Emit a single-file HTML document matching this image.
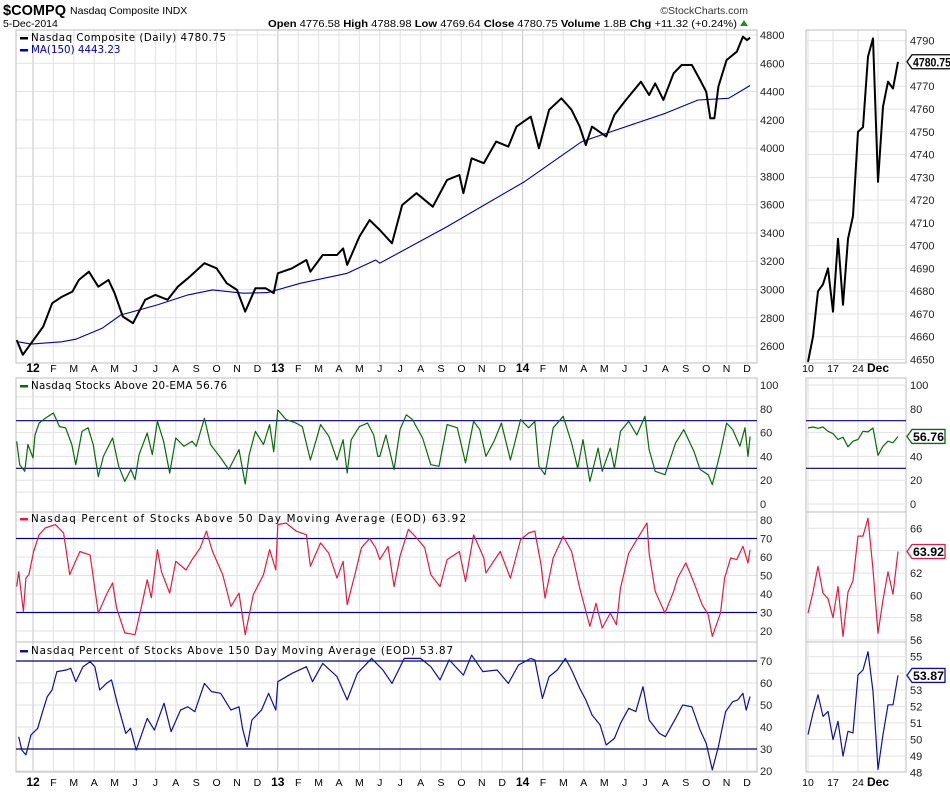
<!DOCTYPE html>
<html><head><meta charset="utf-8"><style>
html,body{margin:0;background:#fff;width:950px;height:795px;overflow:hidden}
svg{display:block;overflow:hidden}
text{font-family:"Liberation Sans",sans-serif}
.lg{font-family:"DejaVu Sans",sans-serif;font-size:10.3px}
</style></head><body>
<svg id="c" width="950" height="795" xmlns="http://www.w3.org/2000/svg">
<text x="3" y="15" font-size="15" font-weight="bold" textLength="63" lengthAdjust="spacingAndGlyphs">$COMPQ</text>
<text x="70" y="14" font-size="10.5">Nasdaq Composite INDX</text>
<text x="3" y="27" font-size="10.5">5-Dec-2014</text>
<text x="748" y="14" font-size="10.5" text-anchor="end" fill="#333">©StockCharts.com</text>
<text x="268" y="27" font-size="10.5" textLength="469" lengthAdjust="spacingAndGlyphs"><tspan font-weight="bold">Open</tspan> 4776.58 <tspan font-weight="bold">High</tspan> 4788.98 <tspan font-weight="bold">Low</tspan> 4769.64 <tspan font-weight="bold">Close</tspan> 4780.75 <tspan font-weight="bold">Volume</tspan> 1.8B <tspan font-weight="bold">Chg</tspan> +11.32 (+0.24%)</text>
<polygon points="740,26 748,26 744,20" fill="#2a8a2a"/>
<g id="g"></g>
</svg>
<script>
// ---- data (month index: 0 = Jan 2012) ----
const priceM=[-0.8,-0.5,-0.15,0.5,0.94,1.43,1.93,2.25,2.74,3.2,3.7,4.0,4.4,4.9,5.5,6.0,6.6,7.1,7.6,8.4,9.0,9.5,10.0,10.4,10.9,11.4,11.8,12.0,12.7,13.4,13.6,14.2,14.9,15.2,15.4,16.0,16.5,17.0,17.6,18.1,18.8,19.6,20.3,20.9,21.1,21.5,22.1,22.7,23.3,23.7,24.4,24.8,25.3,25.9,26.4,26.8,27.1,27.4,28.1,28.5,29.0,29.8,30.2,30.5,30.9,31.4,31.8,32.3,32.7,33.0,33.2,33.4,33.6,34.0,34.5,34.8,35.0,35.15];
const priceV=[2643,2538,2608,2738,2903,2950,2985,3068,3126,3020,3068,2974,2809,2762,2927,2962,2927,3020,3080,3186,3150,3044,2997,2844,3009,3009,2974,3115,3150,3209,3126,3244,3244,3291,3174,3374,3491,3421,3327,3598,3681,3586,3775,3810,3681,3928,3893,4046,4011,4152,4223,3999,4270,4352,4270,4152,4022,4152,4082,4235,4329,4470,4376,4458,4341,4529,4588,4588,4482,4399,4211,4211,4435,4623,4682,4788,4764,4780.75];
const maM=[-0.8,-0.1,1.4,2.1,3.4,4.3,6.1,7.6,8.8,10.3,11.5,13.1,15.4,16.8,17.0,20.3,24.1,26.9,31.0,32.6,34.1,35.15];
const maV=[2632,2614,2630,2649,2727,2820,2891,2962,2997,2974,2978,3044,3115,3209,3186,3445,3763,4046,4246,4340,4352,4443];
const grnM=[-0.8,-0.65,-0.4,-0.25,0.0,0.1,0.3,0.6,1.0,1.3,1.6,1.9,2.1,2.4,2.7,2.95,3.2,3.45,3.9,4.2,4.5,4.8,5.0,5.2,5.6,5.85,6.1,6.4,6.7,7.0,7.4,7.8,8.0,8.4,8.7,9.2,9.6,10.1,10.4,10.6,10.9,11.3,11.6,11.8,12.0,12.4,12.9,13.2,13.6,14.1,14.5,14.9,15.2,15.4,15.6,16.0,16.4,16.7,16.9,17.0,17.3,17.7,17.99,18.3,18.6,19.1,19.5,19.9,20.3,20.8,21.2,21.6,21.9,22.2,22.6,22.96,23.4,23.9,24.3,24.6,24.8,25.1,25.5,25.99,26.4,26.7,26.96,27.3,27.7,27.9,28.3,28.5,28.8,29.2,29.6,30.0,30.2,30.5,30.98,31.5,31.9,32.4,32.7,33.1,33.3,33.7,34.0,34.3,34.65,34.9,35.05,35.15];
const grnV=[52.7,33,27.5,50,38.7,58,68,72,76.5,65,64,50,33,61,64,50,23,40,55.5,31.7,19,29,20.4,41.5,59.7,41.5,69.5,52.7,26,55.5,48.5,52.7,48.5,72,50,38.7,29,45.7,16.8,41.5,61,50,66.7,44,79,71,68,65,37,66.7,57,37,54,26,54,65,68,58,40,40,58,29,62.5,75,71,55.5,33,31.7,66.7,64,34.5,69.5,62.5,40,52.7,68,37,71,64,69.5,31.7,24.6,64,73.7,51.3,30,54,19,47,27.5,47,30,61,69.5,58,73.7,45.7,27.5,24.6,51.3,62.5,44,29,24.6,16.2,44,68,62.5,48.5,64,40,56.76];
const redM=[-0.8,-0.7,-0.47,-0.35,-0.2,0.03,0.3,0.6,1.1,1.5,1.8,2.3,2.8,3.2,3.6,3.9,4.1,4.5,5.0,5.3,5.6,5.8,6.1,6.3,6.7,7.0,7.5,7.8,8.2,8.5,8.8,9.3,9.7,10.1,10.4,10.8,11.3,11.6,11.9,12.0,12.4,12.9,13.4,13.6,14.1,14.5,14.9,15.2,15.4,15.8,16.1,16.5,16.8,17.0,17.4,17.7,17.99,18.4,18.8,19.2,19.5,19.95,20.3,20.9,21.2,21.6,22.1,22.2,22.9,23.4,23.9,24.3,24.6,24.9,25.1,25.5,25.99,26.4,26.8,27.3,27.6,27.9,28.3,28.6,28.8,29.2,29.6,30.1,30.2,30.5,30.98,31.4,31.6,32.0,32.4,32.8,33.1,33.3,33.7,33.9,34.2,34.5,34.8,35.05,35.15];
const redV=[44,52,30.6,48.6,50.5,63,72,75.7,77.5,73,50.5,63,61,29.7,39.6,46,32.4,19,18,32.4,47.7,38,64,52,40.5,57.7,53,58.6,65,74,63,50.5,33.3,40.5,18,39.6,50.5,64,53,77.5,78.4,74,72,55,67.6,62,48.6,57.7,34.2,51.4,65,70,65,58.6,65.8,44,60.4,75,70.3,65,50.5,44,58.6,63,46.8,72,59.5,51.4,63,48.6,69.4,73,74,55.9,37.8,59.5,71.2,63,43.2,22.5,35,21.6,29.7,23.4,43.2,62,69.4,78.4,62,41.4,29.7,41.4,48.6,56.8,46,34.2,28.8,17.1,29.7,48.6,59.5,58.6,65.8,56.8,63.92];
const bluM=[-0.7,-0.55,-0.35,-0.1,0.23,0.47,0.7,0.93,1.17,1.63,1.85,2.1,2.45,2.8,3.03,3.27,3.6,3.85,4.13,4.55,4.78,5.06,5.6,5.95,6.42,6.77,7.23,7.58,7.93,8.4,8.75,9.2,9.7,10.1,10.27,10.5,10.73,11.2,11.55,11.9,12.0,12.7,13.4,13.7,14.2,14.9,15.4,15.9,16.6,17.15,17.6,18.2,19.0,19.5,19.95,20.4,21.1,21.5,22.05,22.75,23.3,23.8,24.4,24.6,24.97,25.3,25.7,26.1,26.4,26.8,27.1,27.4,27.8,28.1,28.5,28.8,29.2,29.55,29.9,30.2,30.7,31.0,31.5,31.85,32.3,32.7,33.0,33.3,33.6,33.95,34.3,34.55,34.8,34.96,35.15];
const bluV=[35.6,29.5,27.3,36.4,39.4,47,53.8,56.8,65.2,65.9,66.7,60.6,67.4,69.7,67.4,56.8,59.8,61.4,50.8,37.1,39.4,29.5,43.9,38.6,50.8,37.9,47.7,49.2,47,59.8,56.1,55.3,47.7,49.2,39.4,31.1,43.2,47.7,55.3,47.7,60.6,64.4,67.4,60.6,68.9,62.9,52.3,64.4,71.2,65.9,59.8,71.2,71.2,67.4,61.4,70.5,63.6,72.7,65.2,65.9,59.8,68.2,71.2,70.5,53,62.9,65.9,71.2,65.9,57.6,52.3,45.5,40.9,31.8,34.8,41.7,48.5,47,58.3,43.2,37.1,35.6,43.9,50,49.2,38.6,32.6,20.5,31.1,47,51.5,52.3,55.3,47.7,53.87];
// side (trading days Nov 10 - Dec 5)
const sideDays=['10','','','','','17','','','','','24','','','','Dec','','','',''];
const sPrice=[4649,4660,4680,4683,4690,4671,4703,4674,4703,4713,4750,4752,4783,4791,4728,4761,4772,4769,4780.75];
const sGrn=[63.9,64.7,63.6,64.7,61.1,59.2,54.2,56.1,48.1,52.8,54.2,61.1,60.6,63.9,40.8,48.6,52.8,51.4,56.76];
const sRed=[58.4,60.3,62.6,60.2,59.7,58.0,60.8,56.3,60.3,61.3,65.3,65.3,66.9,62.3,56.6,59.6,62.1,60.1,63.92];
const sBlu=[50.3,51.6,52.7,51.4,51.7,50.0,51.1,49.0,50.5,50.4,53.9,54.2,55.3,52.9,48.2,50.3,52.1,52.1,53.87];
const monthLabels=['12','F','M','A','M','J','J','A','S','O','N','D','13','F','M','A','M','J','J','A','S','O','N','D','14','F','M','A','M','J','J','A','S','O','N','D'];
const priceTicks=[2600,2800,3000,3200,3400,3600,3800,4000,4200,4400,4600,4800];
const grnTicks=[0,20,40,60,80,100];
const redTicks=[20,30,40,50,60,70,80];
const bluTicks=[20,30,40,50,60,70];
const sPriceTicks=[4650,4660,4670,4680,4690,4700,4710,4720,4730,4740,4750,4760,4770,4780,4790];
const sRedTicks=[56,58,60,62,64,66];
const sBluTicks=[48,49,50,51,52,53,54,55];

// ---- scales ----
const L=16,R=757,SL=806,SR=906;
const xm=m=>33+20.4*m;
const xs=i=>808+5*i;
const P={price:{t:30,b:363,y:v=>35+(4800-v)*0.1414},grn:{t:378,b:512,y:v=>504-v*1.19},red:{t:512,b:642,y:v=>520+(80-v)*1.85},blu:{t:642,b:772,y:v=>661+(70-v)*2.2}};
const S={price:v=>40.7+(4790-v)*2.277,grn:v=>504-v*1.19,red:v=>528.3+(66-v)*11.17,blu:v=>656.7+(55-v)*16.57};
const g=document.getElementById('g');const NS='http://www.w3.org/2000/svg';
function el(t,a,txt){const e=document.createElementNS(NS,t);for(const k in a)e.setAttribute(k,a[k]);if(txt!==undefined)e.textContent=txt;g.appendChild(e);return e;}
function line(x1,y1,x2,y2,st,w){return el('line',{x1,y1,x2,y2,stroke:st,'stroke-width':w||1});}
function poly(xs_,ys_,st,w){return el('polyline',{points:xs_.map((x,i)=>x.toFixed(1)+','+ys_[i].toFixed(1)).join(' '),fill:'none',stroke:st,'stroke-width':w,'stroke-linejoin':'round'});}

const panels=[['price',priceTicks,null],['grn',[10,20,30,40,50,60,70,80,90],grnTicks],['red',[20,30,40,50,60,70,80],redTicks],['blu',[20,30,40,50,60,70],bluTicks]];
panels.forEach(([k,grid,ticks])=>{
 const p=P[k];
 for(let m=0;m<=35;m++){const x=xm(m);const e=line(x,p.t,x,p.b,m%12==0?'#c4c4c4':'#e2e2e2');}
 grid.forEach(v=>{const y=p.y(v);if(y>p.t&&y<p.b){const e=line(L,y,R,y,'#e2e2e2');}});
 const tk=ticks||grid;
 tk.forEach(v=>{const y=p.y(v);const e=el('text',{x:R+3,y:y+4,'font-size':11,fill:'#222'},String(v));});
 const r=el('rect',{x:L,y:p.t,width:R-L,height:p.b-p.t,fill:'none',stroke:'#bdbdbd'});
 for(const i of [0,5,10,14]){const e=line(xs(i),p.t,xs(i),p.b,'#e2e2e2');}
 const sr=el('rect',{x:SL,y:p.t,width:SR-SL,height:p.b-p.t,fill:'none',stroke:'#bdbdbd'});
});
function sideTicks(ticks,f,t,b){ticks.forEach(v=>{const y=f(v);if(y>t+1&&y<b-1){const e=line(SL,y,SR,y,'#e2e2e2');}const tx=el('text',{x:SR+4,y:y+4,'font-size':11,fill:'#222'},String(v));});}
sideTicks(sPriceTicks,S.price,30,363);
sideTicks(grnTicks,S.grn,378,512);
sideTicks(sRedTicks,S.red,512,642);
sideTicks(sBluTicks,S.blu,642,772);
[372,786].forEach(yy=>{
 monthLabels.forEach((lb,m)=>{const bold=m%12==0;const e=el('text',{x:xm(m),y:yy,'font-size':bold?12:10.5,'font-weight':bold?'bold':'normal','text-anchor':'middle'},lb);});
 sideDays.forEach((lb,i)=>{if(!lb)return;const d=lb=='Dec';const e=el('text',{x:xs(i),y:yy,'font-size':d?12:10.5,'font-weight':d?'bold':'normal','text-anchor':'middle'},lb);});
});
[['grn',70],['grn',30],['red',70],['red',30],['blu',70],['blu',30]].forEach(([k,v])=>{
 const a=line(L,P[k].y(v),R,P[k].y(v),'#000080',1.2);
 const yy=S[k](v);
 if(yy>P[k].t&&yy<P[k].b){const b=line(SL,yy,SR,yy,'#000080',1.2);}
});
let s;
s=poly(maM.map(xm),maV.map(P.price.y),'#0000aa',1.1);
s=poly(priceM.map(xm),priceV.map(P.price.y),'#000',2);
s=poly(grnM.map(xm),grnV.map(P.grn.y),'#0a6a0a',1.2);
s=poly(redM.map(xm),redV.map(P.red.y),'#dc1e46',1.2);
s=poly(bluM.map(xm),bluV.map(P.blu.y),'#10109a',1.2);
const idx=sPrice.map((_,i)=>xs(i));
s=poly(idx,sPrice.map(S.price),'#000',2);
s=poly(idx,sGrn.map(S.grn),'#0a6a0a',1.2);
s=poly(idx,sRed.map(S.red),'#dc1e46',1.2);
s=poly(idx,sBlu.map(S.blu),'#10109a',1.2);
function tag(y,col,txt){const x=SR+1;const w=txt.length>5?40:33,h=14;
 const p=el('polygon',{points:`${x},${y} ${x+5},${y-h/2} ${x+5+w},${y-h/2} ${x+5+w},${y+h/2} ${x+5},${y+h/2}`,fill:'#fff',stroke:col,'stroke-width':1.3});
 const t=el('text',{x:x+6,y:y+4.5,'font-size':12,'font-weight':'bold',fill:'#000',textLength:w-2,lengthAdjust:'spacingAndGlyphs'},txt);}
tag(S.price(sPrice[18]),'#000','4780.75');
tag(S.grn(sGrn[18]),'#0a6a0a','56.76');
tag(S.red(sRed[18]),'#dc1e46','63.92');
tag(S.blu(sBlu[18]),'#10109a','53.87');
function legend(y,col,txt,name,end,fill){const r=el('rect',{x:20,y:y-4,width:8,height:2.5,fill:col});
 const a={x:31,y:y,'class':'lg',fill:fill||'#000'};if(end){a.textLength=end-31;a.lengthAdjust='spacing';}
 const t=el('text',a,txt);}
legend(41,'#000','Nasdaq Composite (Daily) 4780.75','price-legend',226);
legend(53,'#0000aa','MA(150) 4443.23','ma-legend',0,'#0000aa');
legend(389,'#0a6a0a','Nasdaq Stocks Above 20-EMA 56.76','ema20-panel-title',227);
legend(522,'#dc1e46','Nasdaq Percent of Stocks Above 50 Day Moving Average (EOD) 63.92','dma50-panel-title',466);
legend(654,'#10109a','Nasdaq Percent of Stocks Above 150 Day Moving Average (EOD) 53.87','dma150-panel-title',453);
</script>
</body></html>
